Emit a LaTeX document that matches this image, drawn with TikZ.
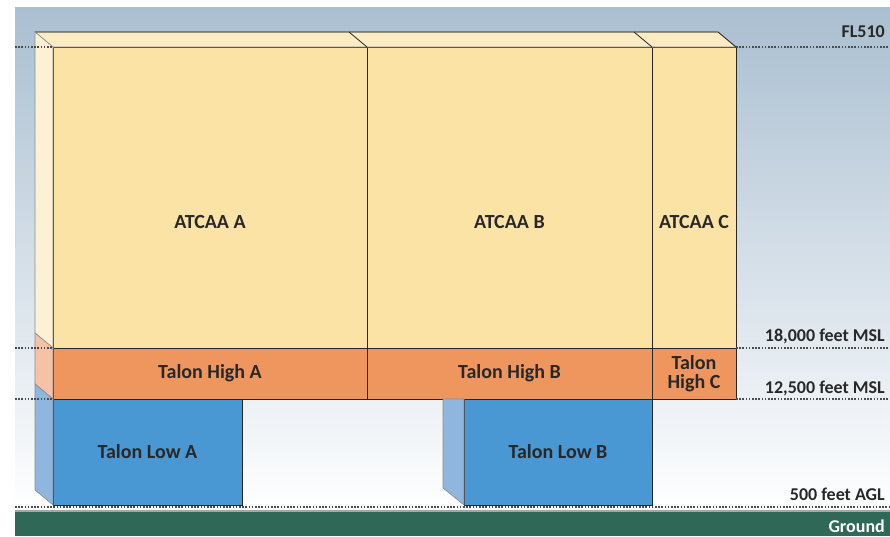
\documentclass[tikz,border=0pt]{standalone}
\usepackage{fontspec}
\setmainfont{Carlito}
\usetikzlibrary{positioning}

\definecolor{skyTop}{RGB}{170,191,209}
\definecolor{skyMid}{RGB}{190,206,219}
\definecolor{groundG}{RGB}{47,104,86}
\definecolor{atcaaY}{RGB}{251,227,166}
\definecolor{atcaaTop}{RGB}{252,236,196}
\definecolor{atcaaSide}{RGB}{252,241,212}
\definecolor{highO}{RGB}{238,150,94}
\definecolor{highSide}{RGB}{245,194,168}
\definecolor{lowB}{RGB}{73,152,211}
\definecolor{lowSide}{RGB}{142,182,222}
\definecolor{txt}{RGB}{40,40,40}

\begin{document}
\begin{tikzpicture}[x=1pt, y=-1pt,
  box/.style={draw=black!85, line width=0.8pt, outer sep=0pt, inner sep=0pt,
    text=txt, font=\fontsize{20}{19}\selectfont\bfseries, align=center},
  atcaa/.style={box, fill=atcaaY, minimum width=#1, minimum height=301pt},
  high/.style={box, fill=highO, minimum width=#1, minimum height=51pt},
  low/.style={box, fill=lowB, minimum width=#1, minimum height=106pt},
  lbl/.style={text=txt, font=\fontsize{20}{22}\selectfont\bfseries, inner sep=0pt},
  alt/.style={text=txt, font=\fontsize{18}{20}\selectfont\bfseries,
    anchor=base east, inner sep=0pt},
  lvl/.style={dash pattern=on 1.6pt off 1.6pt, black!70, line width=1.2pt},
  side/.style={draw=black!45, line width=0.6pt},
  node distance=0pt
]
\useasboundingbox (0,0) rectangle (890,536);
\fill[white] (0,0) rectangle (890,536);

% sky and ground
\shade[top color=skyTop, middle color=skyMid, bottom color=white] (15,7) rectangle (890,512);
\fill[groundG] (15,512) rectangle (890,536);
\draw[black!35, line width=1.5pt] (15,511) -- (890,511);
\draw[lvl] (15,507) -- (890,507);

% airspace blocks
\node[atcaa=314pt, anchor=north west,
  label={[lbl, yshift=-25pt]center:ATCAA A}] (atcaaA) at (53,47) {};
\node[atcaa=285pt, right=of atcaaA,
  label={[lbl, yshift=-25pt]center:ATCAA B}] (atcaaB) {};
\node[atcaa=84pt, right=of atcaaB,
  label={[lbl, yshift=-25pt]center:ATCAA C}] (atcaaC) {};
\node[high=314pt, below=of atcaaA] (highA) {Talon High A};
\node[high=285pt, below=of atcaaB] (highB) {Talon High B};
\node[high=84pt, below=of atcaaC] (highC) {Talon\\High C};
\node[low=189pt, below right=0pt and 0pt of highA.south west, anchor=north west] (lowA) {Talon Low A};
\node[low=188pt, below left=0pt and 0pt of highB.south east, anchor=north east] (lowB) {Talon Low B};

% 3d faces
\filldraw[side, fill=atcaaTop] (atcaaA.north west) -- ++(-18,-15) -- ++(683,0)
  -- (atcaaC.north east) -- cycle;
\draw[black!85, line width=0.8pt] (atcaaA.north west) ++(-18,-15) -- ++(683,0) -- (atcaaC.north east);
\draw[black!85, line width=0.8pt] (atcaaB.north west) -- ++(-18,-15);
\draw[black!85, line width=0.8pt] (atcaaC.north west) -- ++(-18,-15);
\filldraw[side, fill=atcaaSide] (atcaaA.north west) -- ++(-18,-15) -- ++(0,301)
  -- (atcaaA.south west) -- cycle;
\filldraw[side, fill=highSide] (highA.north west) -- ++(-18,-15) -- ++(0,51)
  -- (highA.south west) -- cycle;
\filldraw[side, fill=lowSide] (lowA.north west) -- ++(-18,-15) -- ++(0,106)
  -- (lowA.south west) -- cycle;
\filldraw[side, fill=lowSide] (lowB.north west) -- ++(-21,0) -- ++(0,89)
  -- (lowB.south west) -- cycle;

% altitude levels
\draw[lvl] (15,47) -- (atcaaA.north west);
\draw[lvl] (15,348) -- (atcaaA.south west);
\draw[lvl] (15,399) -- (highA.south west);
\draw[lvl] (atcaaC.north east) -- (890,47);
\draw[lvl] (atcaaC.south east) -- (890,348);
\draw[lvl] (highC.south east) -- (890,399);

\node[alt] (fl510) at (885,37) {FL510};
\node[alt] (msl18) at (885,341) {18,000 feet MSL};
\node[alt] (msl12) at (885,393) {12,500 feet MSL};
\node[alt] (agl) at (885,500) {500 feet AGL};
\node[alt, text=white] (ground) at (885,532) {Ground};
\end{tikzpicture}
\end{document}
